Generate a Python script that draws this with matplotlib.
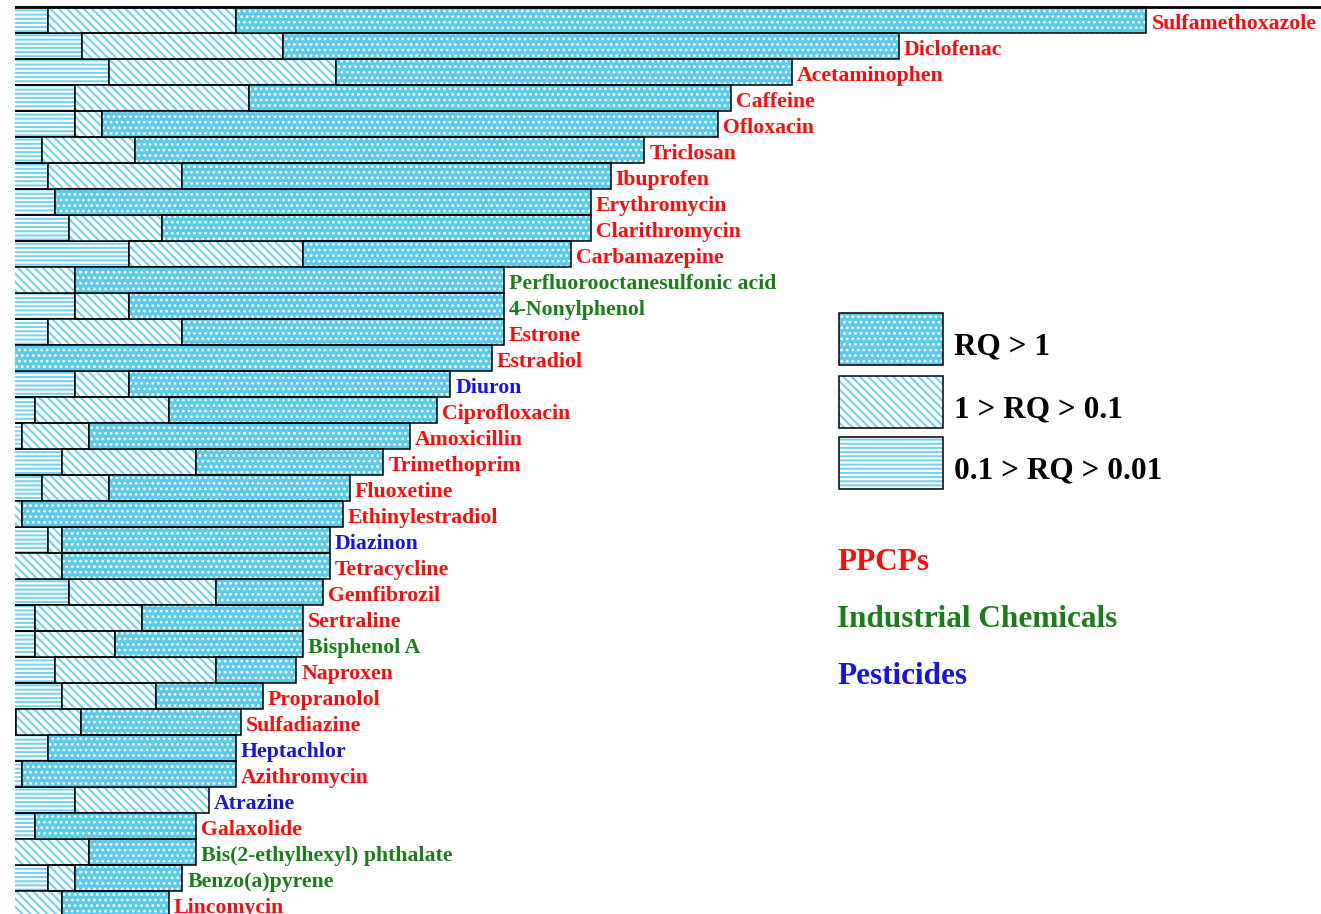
import numpy as np
import matplotlib.pyplot as plt
from matplotlib.patches import Rectangle

# chemicals, top to bottom
names = ["Sulfamethoxazole", "Diclofenac", "Acetaminophen", "Caffeine", "Ofloxacin",
         "Triclosan", "Ibuprofen", "Erythromycin", "Clarithromycin", "Carbamazepine",
         "Perfluorooctanesulfonic acid", "4-Nonylphenol", "Estrone", "Estradiol", "Diuron",
         "Ciprofloxacin", "Amoxicillin", "Trimethoprim", "Fluoxetine", "Ethinylestradiol",
         "Diazinon", "Tetracycline", "Gemfibrozil", "Sertraline", "Bisphenol A",
         "Naproxen", "Propranolol", "Sulfadiazine", "Heptachlor", "Azithromycin",
         "Atrazine", "Galaxolide", "Bis(2-ethylhexyl) phthalate", "Benzo(a)pyrene", "Lincomycin"]

# P = PPCPs, I = industrial chemicals, S = pesticides
groups = ["P", "P", "P", "P", "P", "P", "P", "P", "P", "P",
          "I", "I", "P", "P", "S", "P", "P", "P", "P", "P",
          "S", "P", "P", "P", "I", "P", "P", "P", "S", "P",
          "S", "P", "I", "I", "P"]

# segment lengths (visible part of the chart)
rq_low = [1.3, 2.55, 3.55, 2.3, 2.3, 1.05, 1.3, 1.55, 2.05, 4.3,
          0, 2.3, 1.3, 0, 2.3, 0.8, 0.3, 1.8, 1.05, 0,
          1.3, 0, 2.05, 0.8, 0.8, 1.55, 1.8, 0.1, 1.3, 0.3,
          2.3, 0.8, 0, 1.3, 0]
rq_mid = [7.0, 7.5, 8.5, 6.5, 1.0, 3.5, 5.0, 0, 3.5, 6.5,
          2.3, 2.0, 5.0, 0, 2.0, 5.0, 2.5, 5.0, 2.5, 0.3,
          0.5, 1.8, 5.5, 4.0, 3.0, 6.0, 3.5, 2.4, 0, 0,
          5.0, 0, 2.8, 1.0, 1.8]
rq_high = [34.0, 23.0, 17.0, 18.0, 23.0, 19.0, 16.0, 20.0, 16.0, 10.0,
           16.0, 14.0, 12.0, 17.85, 12.0, 10.0, 12.0, 7.0, 9.0, 12.0,
           10.0, 10.0, 4.0, 6.0, 7.0, 3.0, 4.0, 6.0, 7.0, 8.0,
           0, 6.0, 4.0, 4.0, 4.0]

group_colors = {"P": "#ff0a0a", "I": "#1a7d1a", "S": "#1414e6"}
group_names = [("PPCPs", "P"), ("Industrial Chemicals", "I"), ("Pesticides", "S")]

cyan = "#5ccbeb"
plt.rcParams["font.family"] = ["Liberation Serif", "DejaVu Serif"]
plt.rcParams["font.weight"] = "bold"

fig = plt.figure(figsize=(13.21, 9.14), dpi=100)
W, H = 1321, 914
unit = 26.75  # pixels per value unit
ax = fig.add_axes([15 / W, 0, (W - 15) / W, 1])
ax.set_xlim(0.05, (W - 15) / unit)
n = len(names)
ax.set_ylim(-0.769 + H / 26.0, -0.769)
ax.axis("off")

y = np.arange(n)
low = np.array(rq_low)
mid = np.array(rq_mid)
high = np.array(rq_high)

hatch_hi = ("...", "white", 1.2)
hatch_mid = ("\\\\\\\\", "#6fd2ee", 1.5)
hatch_low = ("----", "#6fd2ee", 1.4)

styles = [  # (values, left, face, hatch spec)
    (low, 0, "white", hatch_low),
    (mid, low, "white", hatch_mid),
    (high, low + mid, cyan, hatch_hi),
]
for vals, left, face, (hatch, hcol, hlw) in styles:
    plt.rcParams["hatch.linewidth"] = hlw
    m = vals > 0
    lefts = np.broadcast_to(left, vals.shape)[m]
    ax.barh(y[m], vals[m], left=lefts, height=1.0,
            color=face, edgecolor=hcol, hatch=hatch, linewidth=0)
    ax.barh(y[m], vals[m], left=lefts, height=1.0,
            color="none", edgecolor="black", linewidth=1.1)

ax.axhline(-0.5, color="black", linewidth=2)

total = low + mid + high
for i in range(n):
    ax.text(total[i] + 5 / unit, i + 0.14, names[i], color=group_colors[groups[i]],
            fontsize=15.7, fontweight="bold", va="center", ha="left")

# legend boxes
legend_items = [("RQ > 1", cyan, hatch_hi, 339),
                ("1 > RQ > 0.1", "white", hatch_mid, 402),
                ("0.1 > RQ > 0.01", "white", hatch_low, 463)]
for lab, face, (hatch, hcol, hlw), yc in legend_items:
    plt.rcParams["hatch.linewidth"] = hlw
    fig.patches.append(Rectangle((839 / W, 1 - (yc + 26) / H), 104 / W, 52 / H,
                                 transform=fig.transFigure, facecolor=face,
                                 edgecolor=hcol, hatch=hatch, linewidth=0))
    fig.patches.append(Rectangle((839 / W, 1 - (yc + 26) / H), 104 / W, 52 / H,
                                 transform=fig.transFigure, facecolor="none",
                                 edgecolor="black", linewidth=1.1))
    fig.text(954 / W, 1 - (yc + 8) / H, lab, fontsize=22.5, fontweight="bold",
             va="center", ha="left", color="black")

for k, (lab, g) in enumerate(group_names):
    fig.text(837 / W, 1 - (562 + k * 57.5) / H, lab, fontsize=22.5, fontweight="bold",
             va="center", ha="left", color=group_colors[g])

fig.savefig("out.png", dpi=100)
